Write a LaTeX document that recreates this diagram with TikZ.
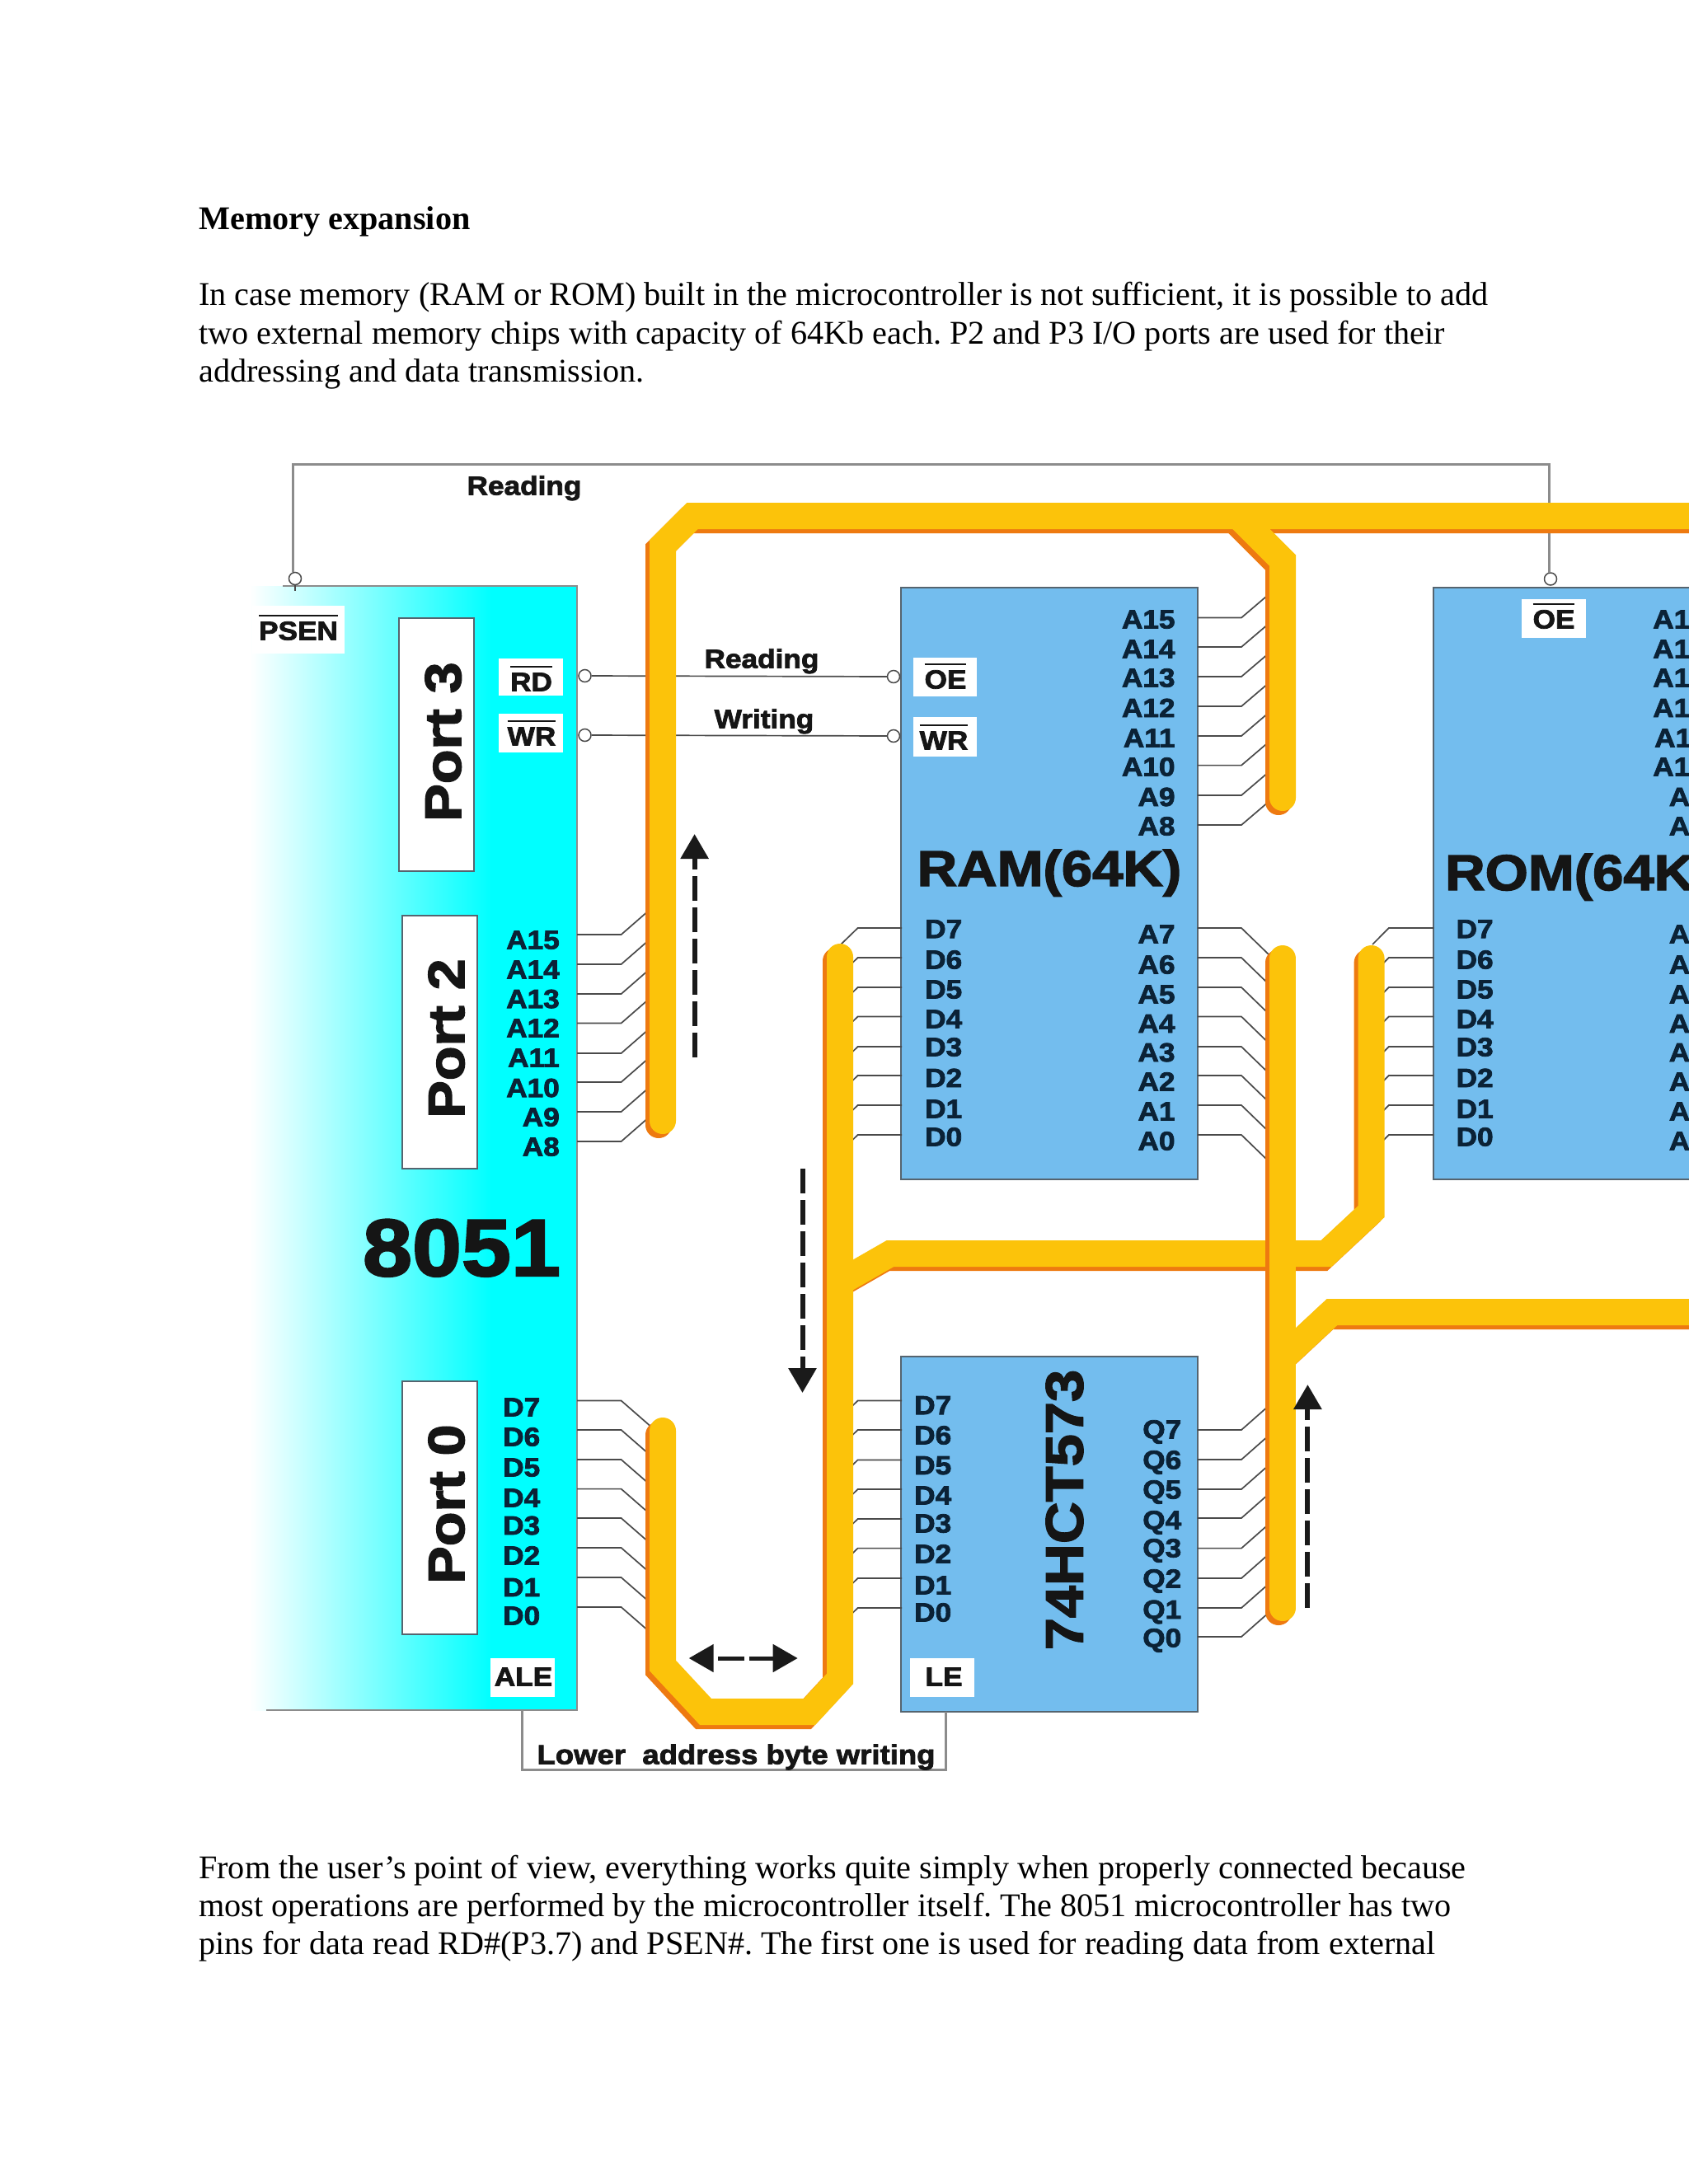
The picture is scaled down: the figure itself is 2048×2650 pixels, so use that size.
\documentclass[tikz,border=0pt]{standalone}
\usepackage{fontspec}
\setmainfont{Liberation Serif}
\newfontfamily\dgb{Liberation Sans}[BoldFeatures={FakeStretch=1.1,FakeBold=2.4}]
\usetikzlibrary{arrows.meta}
\definecolor{busY}{HTML}{FCC30A}
\definecolor{busO}{HTML}{EE7A10}
\definecolor{chipblue}{HTML}{73BDEE}
\definecolor{edgeg}{HTML}{55646F}
\definecolor{wireg}{HTML}{4A4A4A}
\definecolor{lineg}{HTML}{8C8C8C}
\definecolor{navy}{HTML}{0B2236}
\definecolor{inkk}{HTML}{151515}
\definecolor{cy}{RGB}{0,255,255}
\definecolor{arrowk}{HTML}{1A1A1A}
\newcommand\fsz[1]{\fontsize{#1}{#1}\selectfont}
\newcommand\ovbar[1]{\leavevmode\vbox{\hrule height 2pt\kern 6pt\hbox{#1}}}
\newcommand\buso[1]{\draw[buslow] #1;}
\newcommand\busy[1]{\draw[bushigh] #1;}
\frenchspacing
\tikzset{
  x=1pt,y=-1pt,
  pagetext/.style={inner sep=0pt,anchor=base west,font=\fsz{40.2},text=black},
  lab/.style={inner sep=0pt,text height=23pt,text depth=0pt,font=\dgb\bfseries\fsz{32},text=navy},
  lbl/.style={lab,text=inkk},
  bigl/.style={inner sep=0pt,text height=44pt,text depth=0pt,font=\dgb\bfseries\fsz{60},text=inkk},
  chip/.style={draw=edgeg,fill=chipblue,line width=2pt,inner sep=0pt},
  whitebox/.style={fill=white,inner sep=0pt},
  portbox/.style={draw=edgeg,fill=white,line width=2pt,inner sep=0pt,minimum width=91pt,minimum height=307pt},
  wire/.style={draw=wireg,line width=1.7pt},
  gline/.style={draw=lineg,line width=3pt},
  pin/.style={circle,draw=wireg,fill=white,line width=1.5pt,inner sep=0pt,minimum size=15pt},
  buslow/.style={draw=busO,line width=32pt,line cap=round,xshift=-5pt,yshift=-5pt},
  bushigh/.style={draw=busY,line width=32pt,line cap=round},
  flow/.style={draw=arrowk,line width=6pt,dash pattern=on 30pt off 8pt,-{Triangle[length=30pt,width=33pt]}},
  flowshort/.style={draw=arrowk,line width=5pt,dash pattern=on 32pt off 6pt on 40pt,-{Triangle[length=30pt,width=33pt]}},
}
\begin{document}
\begin{tikzpicture}
\useasboundingbox (0,0) rectangle (2048,2650);
\fill[white] (0,0) rectangle (2048,2650);

% page text
\node[pagetext,font=\bfseries\fsz{40.2}] (t0) at (241,278) {Memory expansion};
\node[pagetext] (t1) at (241,370) {In case memory (RAM or ROM) built in the microcontroller is not sufficient, it is possible to add};
\node[pagetext] (t2) at (241,417) {two external memory chips with capacity of 64Kb each. P2 and P3 I/O ports are used for their};
\node[pagetext] (t3) at (241,463) {addressing and data transmission.};
\node[pagetext] (t4) at (241,2279) {From the user’s point of view, everything works quite simply when properly connected because};
\node[pagetext] (t5) at (241,2325) {most operations are performed by the microcontroller itself. The 8051 microcontroller has two};
\node[pagetext] (t6) at (241,2371) {pins for data read RD\#(P3.7) and PSEN\#. The first one is used for reading data from external};

% 8051 body
\shade[left color=white,right color=cy,shading angle=90] (303,711) rectangle (596,2075);
\fill[cy] (596,711) rectangle (700,2075);
\draw[gline,line width=2pt] (343,711) -- (700,711) -- (700,2075) -- (323,2075);

% chips
\node[chip,minimum width=359.3pt,minimum height=718pt] (ram) at (1273,1072) {};
\node[chip,minimum width=400pt,minimum height=718pt] (rom) at (1939.4,1072) {};
\node[chip,minimum width=359.3pt,minimum height=431pt] (latch) at (1273,1861.5) {};

% port boxes
\node[portbox] (p3) at (529,903.5) {};
\node[portbox] (p2) at (533,1264) {};
\node[portbox] (p0) at (533,1829) {};
\node[bigl,rotate=90,font=\dgb\bfseries\fsz{62}] (p3t) at (537,900) {Port 3};
\node[bigl,rotate=90,font=\dgb\bfseries\fsz{62}] (p2t) at (541,1260) {Port 2};
\node[bigl,rotate=90,font=\dgb\bfseries\fsz{62}] (p0t) at (541,1825) {Port 0};
\node[bigl,font=\dgb\bfseries\fsz{98},text height=70pt] (cpu) at (560,1513) {8051};
\node[bigl,font=\dgb\bfseries\fsz{61}] (ramt) at (1273,1053) {RAM(64K)};
\node[bigl,anchor=west,font=\dgb\bfseries\fsz{61}] (romt) at (1753,1058) {ROM(64K)};
\node[bigl,rotate=90,font=\dgb\bfseries\fsz{64},text height=47pt] (latcht) at (1290,1832) {74HCT573};

% white pin boxes
\node[whitebox,minimum width=112pt,minimum height=58pt] (bPSEN) at (362,764) {};
\node[whitebox,minimum width=78pt,minimum height=45pt] (bRD) at (644,821.5) {};
\node[whitebox,minimum width=78pt,minimum height=47pt] (bWR) at (644,889.5) {};
\node[whitebox,minimum width=77pt,minimum height=47pt] (bOE) at (1146,821.5) {};
\node[whitebox,minimum width=77pt,minimum height=48pt] (bWR2) at (1146,894) {};
\node[whitebox,minimum width=78pt,minimum height=47pt] (bOE2) at (1885,750) {};
\node[whitebox,minimum width=78pt,minimum height=47pt] (bALE) at (634,2035.5) {};
\node[whitebox,minimum width=78pt,minimum height=47pt] (bLE) at (1143,2035.5) {};
\node[lbl] (tPSEN) at (362,765) {\ovbar{PSEN}};
\node[lbl] (tRD) at (644.5,827) {\ovbar{RD}};
\node[lbl] (tWR) at (645,893) {\ovbar{WR}};
\node[lbl] (tOE) at (1147,824) {\ovbar{OE}};
\node[lbl] (tWR2) at (1145,898) {\ovbar{WR}};
\node[lbl] (tOE2) at (1885,751) {\ovbar{OE}};
\node[lbl] (tALE) at (635,2034) {ALE};
\node[lbl] (tLE) at (1145,2034) {LE};

% signal lines
\node[pin] (cPSEN) at (358,702) {};
\node[pin] (cROM) at (1881,702.5) {};
\node[pin] (cRD) at (709.5,820) {};
\node[pin] (cWR) at (709.5,892) {};
\node[pin] (cOE) at (1084,821) {};
\node[pin] (cWE) at (1084,893) {};
\coordinate (gA) at (355,563);
\coordinate (gB) at (1879,563);
\coordinate (gC) at (355,694);
\coordinate (gD) at (1879,695);
\coordinate (gT) at (358,717);
\coordinate (lA) at (633,2075);
\coordinate (lB) at (633,2147.5);
\coordinate (lC) at (1147,2147.5);
\coordinate (lD) at (1147,2077);
\draw[gline] (gC) -- (gA) -- (gB) -- (gD);
\draw[gline] (lA) -- (lB) -- (lC) -- (lD);
\draw[wire] (cPSEN) -- (gT);
\draw[wire] (cRD) -- (cOE);
\draw[wire] (cWR) -- (cWE);
\node[lbl,font=\dgb\bfseries\fsz{32}] (rd0) at (636,589) {Reading};
\node[lbl,font=\dgb\bfseries\fsz{32}] (rd1) at (924,799) {Reading};
\node[lbl,font=\dgb\bfseries\fsz{32}] (wr1) at (927,872) {Writing};
\node[lbl,font=\dgb\bfseries\fsz{33.2}] (lab) at (893,2129) {Lower~ address byte writing};

% wires
\foreach \y [count=\i] in {1134,1170,1206,1241.5,1278,1313,1349,1385}{
  \coordinate (a\i) at (700,\y); \coordinate (b\i) at (753.6,\y); \coordinate (c\i) at (788,\y-30);
  \draw[wire] (a\i) -- (b\i) -- (c\i);}
\foreach \y [count=\i] in {1699.5,1735,1771,1806.6,1842,1878,1914,1950}{
  \coordinate (d\i) at (700,\y); \coordinate (e\i) at (753.6,\y); \coordinate (f\i) at (788,\y+30);
  \draw[wire] (d\i) -- (e\i) -- (f\i);}
\foreach \y [count=\i] in {749.5,785,821,857,893,928.6,965,1001}{
  \coordinate (g\i) at (1452.7,\y); \coordinate (h\i) at (1506,\y); \coordinate (j\i) at (1540,\y-29);
  \draw[wire] (g\i) -- (h\i) -- (j\i);}
\foreach \y [count=\i] in {1126,1162,1198,1233.5,1270,1305,1341,1377}{
  \coordinate (k\i) at (1452.7,\y); \coordinate (m\i) at (1506,\y); \coordinate (n\i) at (1540,\y+33);
  \draw[wire] (k\i) -- (m\i) -- (n\i);
  \coordinate (q\i) at (1094,\y); \coordinate (r\i) at (1040.6,\y); \coordinate (s\i) at (1020,\y+20);
  \draw[wire] (q\i) -- (r\i) -- (s\i);
  \coordinate (u\i) at (1739.4,\y); \coordinate (v\i) at (1684.8,\y); \coordinate (w\i) at (1665,\y+20);
  \draw[wire] (u\i) -- (v\i) -- (w\i);}
\foreach \y [count=\i] in {1699.5,1735,1771.4,1807,1843,1878.6,1915,1951}{
  \coordinate (aa\i) at (1094,\y); \coordinate (ab\i) at (1040.6,\y); \coordinate (ac\i) at (1020,\y+20);
  \draw[wire] (aa\i) -- (ab\i) -- (ac\i);}
\foreach \y [count=\i] in {1735,1771,1807,1842,1878.6,1915,1951,1986}{
  \coordinate (ad\i) at (1452.7,\y); \coordinate (ae\i) at (1506,\y); \coordinate (af\i) at (1540,\y-30);
  \draw[wire] (ad\i) -- (ae\i) -- (af\i);}

% buses
\buso{(804,1360) -- (804,662) -- (840,626) -- (2070,626)}
\buso{(1556,968) -- (1556,680) -- (1502,626)}
\busy{(804,1360) -- (804,662) -- (840,626) -- (2070,626)}
\busy{(1556,968) -- (1556,680) -- (1502,626)}

\buso{(1663.6,1163) -- (1663.6,1470) -- (1609,1521) -- (1080,1521) -- (1019,1556)}
\buso{(804,1736) -- (804,2021) -- (856,2077) -- (982,2077) -- (1019,2037) -- (1019,1161)}
\busy{(1663.6,1163) -- (1663.6,1470) -- (1609,1521) -- (1080,1521) -- (1019,1556)}
\busy{(804,1736) -- (804,2021) -- (856,2077) -- (982,2077) -- (1019,2037) -- (1019,1161)}

\buso{(2070,1592) -- (1616,1592) -- (1556,1648)}
\buso{(1556,1163) -- (1556,1951)}
\busy{(2070,1592) -- (1616,1592) -- (1556,1648)}
\busy{(1556,1163) -- (1556,1951)}

% flow arrows
\coordinate (fa1) at (842.6,1283); \coordinate (fa2) at (842.6,1012);
\coordinate (fb1) at (973.5,1418); \coordinate (fb2) at (973.5,1690);
\coordinate (fc1) at (1586.4,1951); \coordinate (fc2) at (1586.4,1680);
\coordinate (fd0) at (903,2012); \coordinate (fd1) at (835.7,2012);
\coordinate (fd3) at (908.6,2012); \coordinate (fd2) at (967.7,2012);
\draw[flow] (fa1) -- (fa2);
\draw[flow] (fb1) -- (fb2);
\draw[flow] (fc1) -- (fc2);
\draw[flowshort] (fd0) -- (fd1);
\draw[draw=arrowk,line width=5pt,-{Triangle[length=30pt,width=33pt]}] (fd3) -- (fd2);

% pin labels
\foreach \n/\y in {A15/1140,A14/1176,A13/1211.6,A12/1247,A11/1283,A10/1319.6,A9/1355,A8/1391}
  \node[lab,anchor=east] (cpu\n) at (679,\y) {\n};
\foreach \n/\y in {D7/1707,D6/1743,D5/1780,D4/1817,D3/1850.5,D2/1887,D1/1925.5,D0/1960}
  \node[lab,anchor=west] (cpu\n) at (610,\y) {\n};
\foreach \n/\y in {A15/751,A14/787,A13/822,A12/858.6,A11/895,A10/930,A9/966.5,A8/1002,A7/1133,A6/1170,A5/1206,A4/1241.5,A3/1276.5,A2/1312,A1/1348,A0/1384}{
  \node[lab,anchor=east] (ram\n) at (1425.7,\y) {\n};
  \node[lab,anchor=east] (rom\n) at (2070,\y) {\n};}
\foreach \n/\y in {D7/1126.7,D6/1164,D5/1200,D4/1236,D3/1270,D2/1307.5,D1/1345,D0/1379}{
  \node[lab,anchor=west] (ram\n) at (1122,\y) {\n};
  \node[lab,anchor=west] (rom\n) at (1766.4,\y) {\n};}
\foreach \n/\y in {D7/1704.6,D6/1741,D5/1777.5,D4/1814,D3/1848,D2/1885,D1/1923,D0/1956}
  \node[lab,anchor=west] (lat\n) at (1109,\y) {\n};
\foreach \n/\y in {Q7/1734,Q6/1771,Q5/1807,Q4/1844,Q3/1878,Q2/1915,Q1/1952.5,Q0/1987}
  \node[lab,anchor=east] (lat\n) at (1433.4,\y) {\n};
\end{tikzpicture}
\end{document}
